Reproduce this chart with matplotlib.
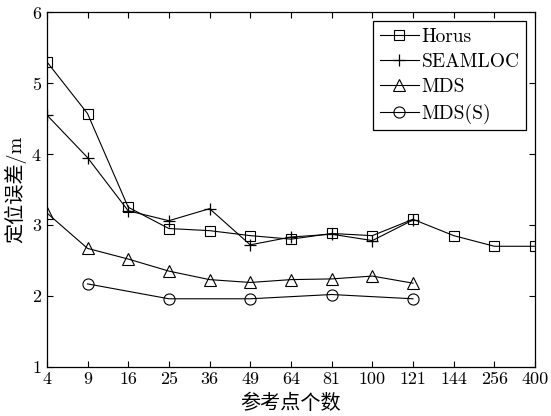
import matplotlib
matplotlib.use("Agg")
from matplotlib import pyplot as plt

plt.rcParams['font.family'] = ['cmr10', 'Noto Sans CJK SC', 'DejaVu Sans']
plt.rcParams['axes.formatter.use_mathtext'] = True

x_labels = ["4", "9", "16", "25", "36", "49", "64", "81", "100", "121", "144", "256", "400"]
horus = [5.30, 4.57, 3.25, 2.95, 2.92, 2.85, 2.80, 2.88, 2.85, 3.08, 2.85, 2.70, 2.70]
seamloc = [4.55, 3.95, 3.20, 3.06, 3.23, 2.72, 2.83, 2.87, 2.78, 3.07]
mds = [3.17, 2.67, 2.52, 2.35, 2.23, 2.19, 2.23, 2.24, 2.28, 2.18]
mds_s_idx = [1, 3, 5, 7, 9]
mds_s = [2.17, 1.96, 1.96, 2.02, 1.96]

fig = plt.figure(figsize=(5.51, 4.16), dpi=100)
ax = fig.add_axes([0.085, 0.118, 0.886, 0.853])

xs = list(range(len(x_labels)))
lw = 0.8
ax.plot(xs, horus, color='k', lw=lw, marker='s', ms=7, mfc='none', mew=0.8, label='Horus')
ax.plot(xs[:len(seamloc)], seamloc, color='k', lw=lw, marker='+', ms=9, mew=0.9, label='SEAMLOC')
ax.plot(xs[:len(mds)], mds, color='k', lw=lw, marker='^', ms=8, mfc='none', mew=0.8, label='MDS')
ax.plot(mds_s_idx, mds_s, color='k', lw=lw, marker='o', ms=8, mfc='none', mew=0.8, label='MDS(S)')

ax.set_xlim(0, len(x_labels) - 1)
ax.set_ylim(1, 6)
ax.set_xticks(xs)
ax.set_xticklabels(x_labels)
ax.set_yticks([1, 2, 3, 4, 5, 6])
ax.tick_params(direction='in', top=True, right=True, labelsize=13, length=4, width=0.8)
for s in ax.spines.values():
    s.set_linewidth(0.9)

ax.set_xlabel("参考点个数", fontsize=14.5, labelpad=5)
ax.set_ylabel("定位误差/m", fontsize=14.5, labelpad=4)

leg = ax.legend(loc='upper right', fontsize=14, fancybox=False, edgecolor='k',
                framealpha=1, handlelength=2.0, handletextpad=0.15, borderaxespad=0.45,
                labelspacing=0.38, borderpad=0.35)
leg.get_frame().set_linewidth(0.9)

fig.savefig("out.png", dpi=100)
